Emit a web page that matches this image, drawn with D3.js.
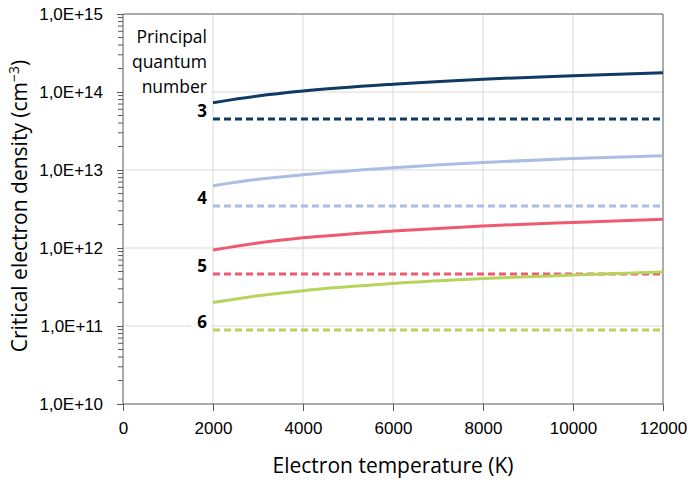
<!DOCTYPE html>
<html>
<head>
<meta charset="utf-8">
<script src="https://cdn.jsdelivr.net/npm/d3@7"></script>
<style>
  body { margin: 0; background: #fff; }
  svg { font-family: "Open Sans", sans-serif; }
  .grid line { stroke: #d9d9d9; stroke-width: 1; }
  .axis path, .axis line { stroke: #595959; }
  .axis text { font-size: 17px; fill: #000; }
</style>
</head>
<body>
<svg id="chart" width="691" height="480"></svg>
<script>
// electron temperature (K)
const temps = [2000, 3000, 4000, 6000, 8000, 10000, 12000];

// critical electron density (cm-3) per principal quantum number
const levels = ["3", "4", "5", "6"];
const solidN3 = [7.3e13, 8.9e13, 1.03e14, 1.26e14, 1.46e14, 1.62e14, 1.77e14];
const solidN4 = [6.3e12, 7.6e12, 8.7e12, 1.07e13, 1.25e13, 1.40e13, 1.52e13];
const solidN5 = [9.4e11, 1.16e12, 1.35e12, 1.65e12, 1.92e12, 2.13e12, 2.33e12];
const solidN6 = [2.0e11, 2.45e11, 2.84e11, 3.5e11, 4.05e11, 4.5e11, 4.92e11];
const dashedLevels = [4.5e13, 3.45e12, 4.64e11, 8.9e10];
const dashedRange = [2000, 12000];

const xTicks = [0, 2000, 4000, 6000, 8000, 10000, 12000];
const yTicks = [1e10, 1e11, 1e12, 1e13, 1e14, 1e15];

const colors = ["#0e3a64", "#abbde4", "#ee5b71", "#b7d35b"];

const svg = d3.select("#chart");
const width = +svg.attr("width");
const height = +svg.attr("height");
const margin = { top: 14, right: 28, bottom: 76, left: 123 };
const w = width - margin.left - margin.right;
const h = height - margin.top - margin.bottom;

const g = svg.append("g")
    .attr("transform", "translate(" + margin.left + "," + margin.top + ")");

const x = d3.scaleLinear().domain([0, 12000]).range([0, w]);
const y = d3.scaleLog().domain([1e10, 1e15]).range([h, 0]);

// gridlines
g.append("g").attr("class", "grid")
    .selectAll("line.v").data(xTicks.slice(1, -1)).enter().append("line")
    .attr("x1", d => x(d)).attr("x2", d => x(d))
    .attr("y1", 0).attr("y2", h);
g.append("g").attr("class", "grid")
    .selectAll("line.h").data(yTicks.slice(1, -1)).enter().append("line")
    .attr("x1", 0).attr("x2", w)
    .attr("y1", d => y(d)).attr("y2", d => y(d));

// minor ticks on the log axis
const minor = [];
yTicks.slice(0, -1).forEach(t => {
    for (let k = 2; k <= 9; k++) minor.push(t * k);
});
g.append("g").attr("class", "axis")
    .selectAll("line").data(minor).enter().append("line")
    .attr("x1", -5).attr("x2", 0)
    .attr("y1", d => y(d)).attr("y2", d => y(d));

// axes
const yAxis = g.append("g").attr("class", "axis")
    .call(d3.axisLeft(y).tickValues(yTicks).tickSize(6).tickPadding(14)
        .tickFormat(d => "1,0E+" + Math.round(Math.log10(d))));
const xAxis = g.append("g").attr("class", "axis")
    .attr("transform", "translate(0," + h + ")")
    .call(d3.axisBottom(x).tickValues(xTicks).tickSize(7).tickPadding(11)
        .tickFormat(d3.format("d")));
yAxis.select(".domain").attr("d", "M0,0V" + h);
xAxis.select(".domain").attr("d", "M0,0H" + w);

// frame top and right
g.append("line").attr("x1", 0).attr("x2", w).attr("y1", 0).attr("y2", 0)
    .attr("stroke", "#595959");
g.append("line").attr("x1", w).attr("x2", w).attr("y1", 0).attr("y2", h)
    .attr("stroke", "#595959");

// series
const solids = [solidN3, solidN4, solidN5, solidN6];
const line = d3.line()
    .x((d, i) => x(temps[i]))
    .y(d => y(d))
    .curve(d3.curveMonotoneX);

dashedLevels.forEach((v, i) => {
    g.append("line")
        .attr("x1", x(dashedRange[0])).attr("x2", x(dashedRange[1]))
        .attr("y1", y(v)).attr("y2", y(v))
        .attr("stroke", colors[i])
        .attr("stroke-width", 3)
        .attr("stroke-dasharray", "7,4");
});

solids.forEach((s, i) => {
    g.append("path")
        .datum(s)
        .attr("fill", "none")
        .attr("stroke", colors[i])
        .attr("stroke-width", 3)
        .attr("d", line);
});

// level labels
levels.forEach((lab, i) => {
    const ty = y(dashedLevels[i]) - 8;
    g.append("rect")
        .attr("x", x(2000) - 22).attr("y", ty - 9)
        .attr("width", 20).attr("height", 18)
        .attr("fill", "#fff");
    g.append("text")
        .attr("x", x(2000) - 6).attr("y", ty)
        .attr("dy", "0.35em")
        .attr("text-anchor", "end")
        .attr("font-size", 17)
        .attr("font-weight", "bold")
        .text(lab);
});

// legend title
const titleLines = ["Principal", "quantum", "number"];
g.append("rect")
    .attr("x", 1).attr("y", 10)
    .attr("width", x(2000) - 3).attr("height", 76)
    .attr("fill", "#fff");
titleLines.forEach((t, i) => {
    g.append("text")
        .attr("x", x(2000) - 6).attr("y", 23 + i * 25)
        .attr("dy", "0.35em")
        .attr("text-anchor", "end")
        .attr("font-size", 17.5)
        .text(t);
});

// axis titles
svg.append("text")
    .attr("x", margin.left + w / 2).attr("y", 473)
    .attr("text-anchor", "middle")
    .attr("font-size", 21)
    .text("Electron temperature (K)");

const yt = svg.append("text")
    .attr("transform", "translate(27,206) rotate(-90)")
    .attr("text-anchor", "middle")
    .attr("font-size", 21);
yt.append("tspan").text("Critical electron density (cm");
yt.append("tspan").attr("dy", -8).attr("font-size", 14).text("−3");
yt.append("tspan").attr("dy", 8).text(")");
</script>
</body>
</html>
